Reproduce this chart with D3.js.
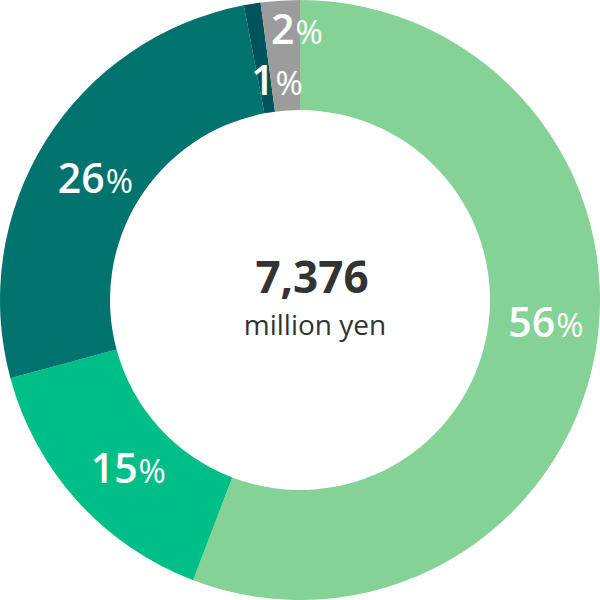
<!DOCTYPE html>
<html><head><meta charset="utf-8">
<script src="https://cdn.jsdelivr.net/npm/d3@7"></script>
<style>html,body{margin:0;padding:0;background:#fff;}svg{display:block;}</style>
</head><body>
<svg id="chart" width="600" height="600"></svg>
<script>
// data
const categories = ["A", "B", "C", "D", "E"];
const values = [55.8, 15.0, 26.2, 0.9, 2.1];
const labels = ["56", "15", "26", "1", "2"];
const colors = ["#84d296", "#00be88", "#00736f", "#00525b", "#9a9d9c"];
const totalText = "7,376";
const unitText = "million yen";
// label nudges relative to arc centroid (layout)
const labelNudge = [[5, -22], [10, 4], [3, 8], [16, 22], [13, -26]];

const svg = d3.select("#chart");
const g = svg.append("g").attr("transform", "translate(300,300)");
const pie = d3.pie().sort(null).value(d => d)(values);
const arc = d3.arc().innerRadius(190).outerRadius(300);
const labelArc = d3.arc().innerRadius(245).outerRadius(245);

g.selectAll("path").data(pie).join("path")
  .attr("d", arc).attr("fill", (d, i) => colors[i]);

const font = "'Open Sans', sans-serif";
const t = g.selectAll("text.lbl").data(pie).join("text")
  .attr("class", "lbl")
  .attr("text-anchor", "middle")
  .attr("fill", "#fff")
  .attr("font-family", font)
  .attr("font-weight", 600)
  .attr("x", (d, i) => labelArc.centroid(d)[0] + labelNudge[i][0])
  .attr("y", (d, i) => labelArc.centroid(d)[1] + labelNudge[i][1] + 14.5);
t.append("tspan").attr("font-size", 41).text((d, i) => labels[i]);
t.append("tspan").attr("font-size", 33).attr("font-weight", 500).attr("dx", 1).text("%");

g.append("text").attr("x", 12).attr("y", -7).attr("text-anchor", "middle")
  .attr("font-family", font).attr("font-weight", 700).attr("font-size", 44)
  .attr("fill", "#333").text(totalText);
g.append("text").attr("x", 15).attr("y", 35).attr("text-anchor", "middle")
  .attr("font-family", font).attr("font-size", 28)
  .attr("fill", "#333").text(unitText);
</script>
</body></html>
